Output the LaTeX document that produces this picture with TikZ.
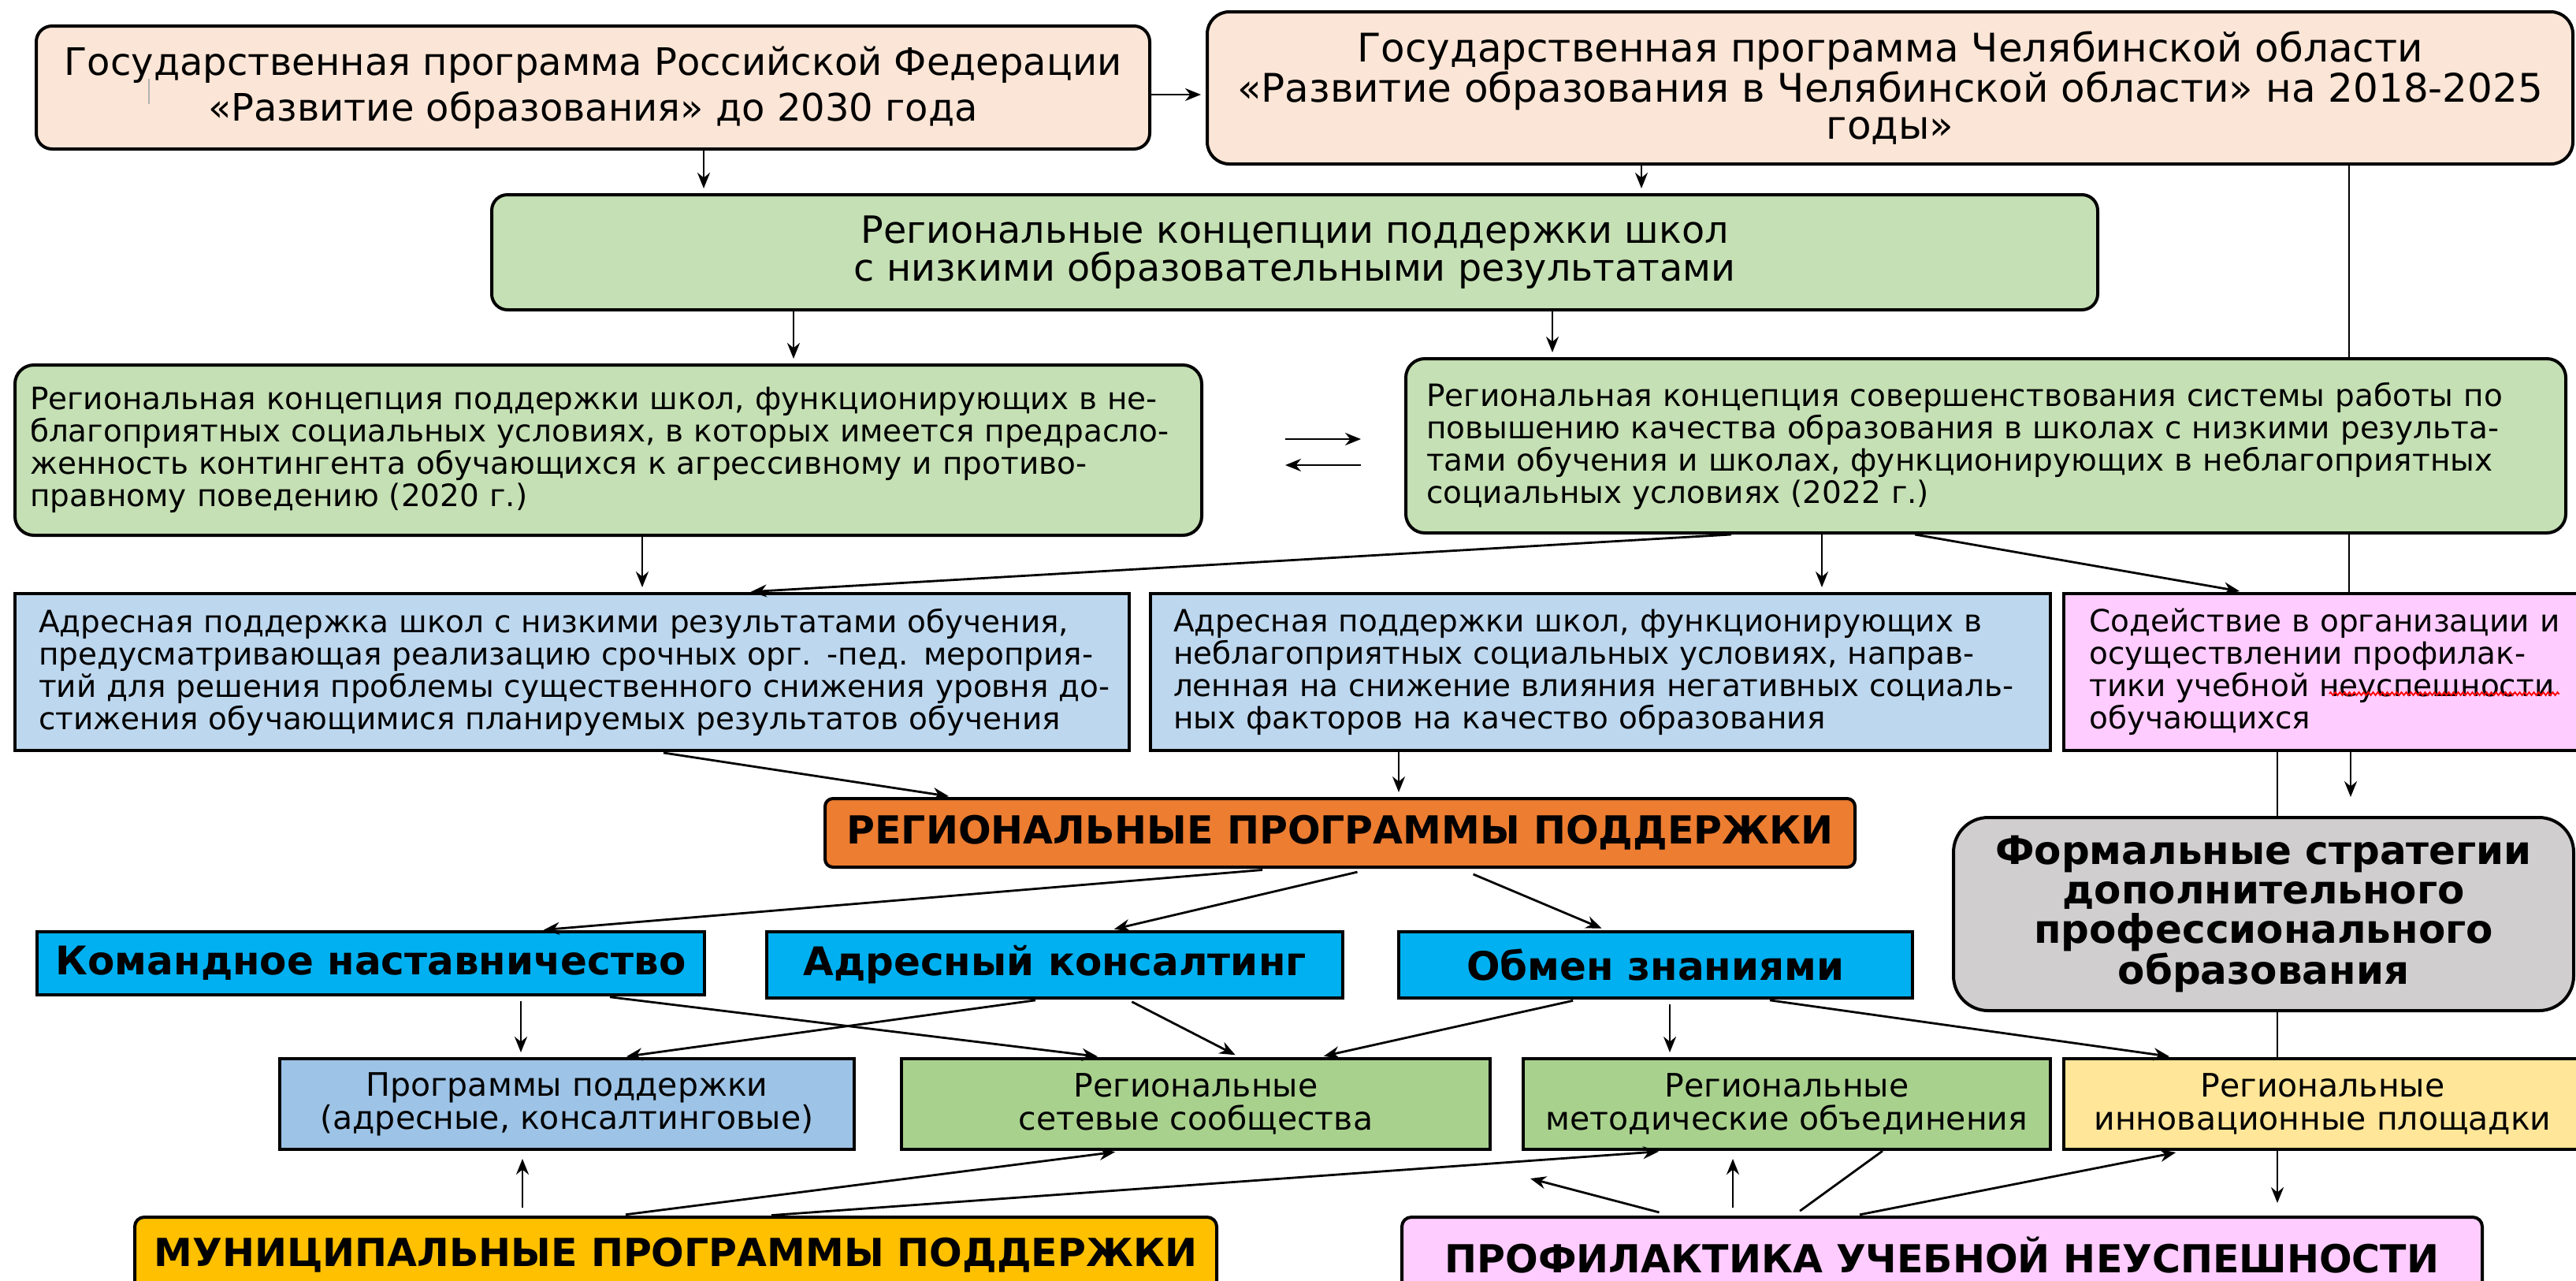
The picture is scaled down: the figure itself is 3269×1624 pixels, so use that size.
\documentclass[tikz,border=0pt]{standalone}
\usepackage{fontspec}
\setmainfont{DejaVu Sans}
\usetikzlibrary{arrows.meta,calc,decorations.pathmorphing}
\definecolor{cPeach}{HTML}{FBE5D6}
\definecolor{cGreenL}{HTML}{C5E0B4}
\definecolor{cBlueL}{HTML}{BDD7EE}
\definecolor{cPink}{HTML}{FFCCFF}
\definecolor{cOrange}{HTML}{ED7D31}
\definecolor{cCyan}{HTML}{00B0F0}
\definecolor{cBlueM}{HTML}{9DC3E6}
\definecolor{cGreenM}{HTML}{A9D18E}
\definecolor{cYellowL}{HTML}{FFE699}
\definecolor{cGold}{HTML}{FFC000}
\definecolor{cGray}{HTML}{D0CECE}
\newcommand\bx[7]{\node[#6, minimum width={(#4-#2)*0.5pt}, minimum height={(#5-#3)*0.5pt}] (#1) at ({(#2+#4)/2},{(#3+#5)/2}) {#7};}
\newcommand\jl[1]{\makebox[\linewidth][s]{#1}\\}
\tikzset{
  box/.style={draw=black, line width=2pt, inner sep=0pt, align=center},
  fbig/.style={font=\fontsize{24}{29}\selectfont},
  fsmall/.style={font=\fontsize{19.5}{20.5}\selectfont},
  flow/.style={font=\fontsize{20.5}{21}\selectfont},
  fbold/.style={font=\fontsize{25}{26}\selectfont\bfseries},
  fcaps/.style={font=\fontsize{24.5}{26}\selectfont\bfseries},
  arr/.style={line width=1.4pt, -{Stealth[length=10pt,width=8pt]}, shorten >=3pt},
  ln/.style={line width=1.4pt}
}
\begin{document}
\begin{tikzpicture}[x=0.5pt, y=-0.5pt]
\fill[white] (0,0) rectangle (3269,1624);
\useasboundingbox (0,0) rectangle (3269,1624);

% nodes with lines passing behind other boxes
\bx{b2}{1532}{15}{3265}{208}{box, fill=cPeach, rounded corners=14pt, font=\fontsize{25}{23.5}\selectfont}{Государственная программа Челябинской области\\«Развитие образования в Челябинской области» на 2018-2025\\годы»}
\bx{b8}{2619}{753}{3276}{952}{box, fill=cPink, fsmall, text width=296pt, align=left}{\jl{Содействие в организации и}\jl{осуществлении профилак-}\jl{тики учебной неуспешности}обучающихся}
\bx{d4}{2619}{1343}{3276}{1458}{box, fill=cYellowL, flow}{Региональные\\инновационные площадки}
\draw[ln] (b2.south -| 2981,0) -- (b8.north -| 2981,0);
\draw[ln] (b8.south -| 2890,0) -- (d4.north -| 2890,0);

\bx{b1}{46}{33}{1459}{189}{box, fill=cPeach, rounded corners=10pt, fbig}{Государственная программа Российской Федерации\\«Развитие образования» до 2030 года}
\bx{b3}{624}{247}{2662}{393}{box, fill=cGreenL, rounded corners=10pt, font=\fontsize{23.8}{24}\selectfont}{Региональные концепции поддержки школ\\с низкими образовательными результатами}
\bx{b4}{19}{463}{1525}{679}{box, fill=cGreenL, rounded corners=12pt, fsmall, text width=734pt, align=left}{\jl{Региональная концепция поддержки школ, функционирующих в не-}\jl{благоприятных социальных условиях, в которых имеется предрасло-}\jl{женность контингента обучающихся к агрессивному и противо-}правному поведению (2020 г.)}
\bx{b5}{1784}{455}{3256}{676}{box, fill=cGreenL, rounded corners=12pt, fsmall, text width=710pt, align=left}{\jl{Региональная концепция совершенствования системы работы по}\jl{повышению качества образования в школах с низкими результа-}\jl{тами обучения и школах, функционирующих в неблагоприятных}социальных условиях (2022 г.)}
\bx{b6}{19}{753}{1433}{952}{box, fill=cBlueL, fsmall, text width=677pt, align=left}{\jl{Адресная поддержка школ с низкими результатами обучения,}\jl{предусматривающая реализацию срочных орг. -пед. мероприя-}\jl{тий для решения проблемы существенного снижения уровня до-}\jl{стижения обучающимися планируемых результатов обучения}}
\bx{b7}{1460}{753}{2602}{952}{box, fill=cBlueL, fsmall, text width=542pt, align=left}{\jl{Адресная поддержки школ, функционирующих в}\jl{неблагоприятных социальных условиях, направ-}\jl{ленная на снижение влияния негативных социаль-}ных факторов на качество образования}
\bx{org}{1047}{1013}{2354}{1100}{box, fill=cOrange, rounded corners=5pt, fcaps}{РЕГИОНАЛЬНЫЕ ПРОГРАММЫ ПОДДЕРЖКИ}
\bx{gry}{2479}{1037}{3266}{1282}{box, fill=cGray, rounded corners=22pt, font=\fontsize{25}{25}\selectfont\bfseries}{Формальные стратегии\\дополнительного\\профессионального\\образования}
\bx{c1}{47}{1182}{894}{1262}{box, fill=cCyan, fbold}{Командное наставничество}
\bx{c2}{973}{1182}{1704}{1266}{box, fill=cCyan, fbold}{Адресный консалтинг}
\bx{c3}{1775}{1182}{2427}{1266}{box, fill=cCyan, fbold}{Обмен знаниями}
\bx{d1}{355}{1343}{1084}{1458}{box, fill=cBlueM, flow}{Программы поддержки\\(адресные, консалтинговые)}
\bx{d2}{1144}{1343}{1891}{1458}{box, fill=cGreenM, flow}{Региональные\\сетевые сообщества}
\bx{d3}{1933}{1343}{2602}{1458}{box, fill=cGreenM, flow}{Региональные\\методические объединения}
\bx{mun}{171}{1544}{1544}{1640}{box, fill=cGold, rounded corners=6pt, fcaps}{МУНИЦИПАЛЬНЫЕ ПРОГРАММЫ ПОДДЕРЖКИ}
\bx{prf}{1779}{1544}{3150}{1640}{box, fill=cPink, rounded corners=6pt, fcaps}{ПРОФИЛАКТИКА УЧЕБНОЙ НЕУСПЕШНОСТИ}

% marks inside texts
\draw[gray!60, line width=0.6pt] (189,100) -- (189,132);
\draw[red, line width=0.9pt, decorate, decoration={zigzag, amplitude=1pt, segment length=3pt}] (2956,880) -- (3248,880);

% connectors
\draw[arr] (b1.east |- 0,120) -- (b2.west |- 0,120);
\draw[arr] (b1.south -| 893,0) -- (b3.north -| 893,0);
\draw[arr] (b2.south -| 2083,0) -- (b3.north -| 2083,0);
\draw[arr] (b3.south -| 1007,0) -- (b4.north -| 1007,0);
\draw[arr] (b3.south -| 1970,0) -- (b5.north -| 1970,0);
\coordinate (u1) at (1631,557); \coordinate (u2) at (1727,557);
\coordinate (v1) at (1727,590); \coordinate (v2) at (1631,590);
\draw[arr, shorten >=0pt] (u1) -- (u2);
\draw[arr, shorten >=0pt] (v1) -- (v2);
\draw[arr] (b4.south -| 815,0) -- (b6.north -| 815,0);
\draw[arr] (b5.south -| 2197,0) -- (b6.north -| 947,0);
\draw[arr] (b5.south -| 2312,0) -- (b7.north -| 2312,0);
\draw[arr] (b5.south -| 2430,0) -- (b8.north -| 2848,0);
\draw[arr, shorten <=3pt] (b6.south -| 836,0) -- (org.north -| 1210,0);
\draw[arr] (b7.south -| 1775,0) -- (org.north -| 1775,0);
\draw[arr, shorten >=12pt] (b8.south -| 2983,0) -- (gry.north -| 2983,0);
\draw[arr, shorten <=9pt] (org.south -| 1620,0) -- (c1.north -| 684,0);
\draw[arr, shorten <=9pt] (org.south -| 1740,0) -- (c2.north -| 1408,0);
\draw[arr, shorten <=9pt] (org.south -| 1853,0) -- (c3.north -| 2038,0);
\draw[arr, shorten <=3pt] (c1.south -| 661,0) -- (d1.north -| 661,0);
\draw[arr, shorten <=3pt] (c1.south -| 768,0) -- (d2.north -| 1399,0);
\draw[arr, shorten <=3pt] (c2.south -| 1320,0) -- (d1.north -| 789,0);
\draw[arr, shorten <=3pt] (c2.south -| 1431,0) -- (d2.north -| 1573,0);
\draw[arr, shorten <=3pt] (c3.south -| 2002,0) -- (d2.north -| 1674,0);
\draw[arr, shorten <=3pt] (c3.south -| 2119,0) -- (d3.north -| 2119,0);
\draw[arr, shorten <=3pt] (c3.south -| 2240,0) -- (d4.north -| 2759,0);
\draw[arr, shorten >=8pt] (d4.south -| 2890,0) -- (prf.north -| 2890,0);
\draw[arr, shorten <=5pt, shorten >=5pt] (mun.north -| 663,0) -- (d1.south -| 663,0);
\draw[arr, shorten <=5pt, shorten >=5pt] (mun.north -| 784,0) -- (d2.south -| 1425,0);
\draw[arr, shorten <=3pt, shorten >=5pt] (mun.north -| 973,0) -- (d3.south -| 2115,0);
\coordinate (w1) at (1942,1495);
\draw[arr, shorten <=8pt, shorten >=0pt] (prf.north -| 2121,0) -- (w1);
\draw[arr, shorten <=5pt, shorten >=5pt] (prf.north -| 2199,0) -- (d3.south -| 2199,0);
\draw[ln, shorten <=5pt] (prf.north -| 2276,0) -- (d3.south -| 2389,0);
\draw[arr, shorten <=3pt, shorten >=5pt] (prf.north -| 2354,0) -- (d4.south -| 2771,0);
\end{tikzpicture}
\end{document}
